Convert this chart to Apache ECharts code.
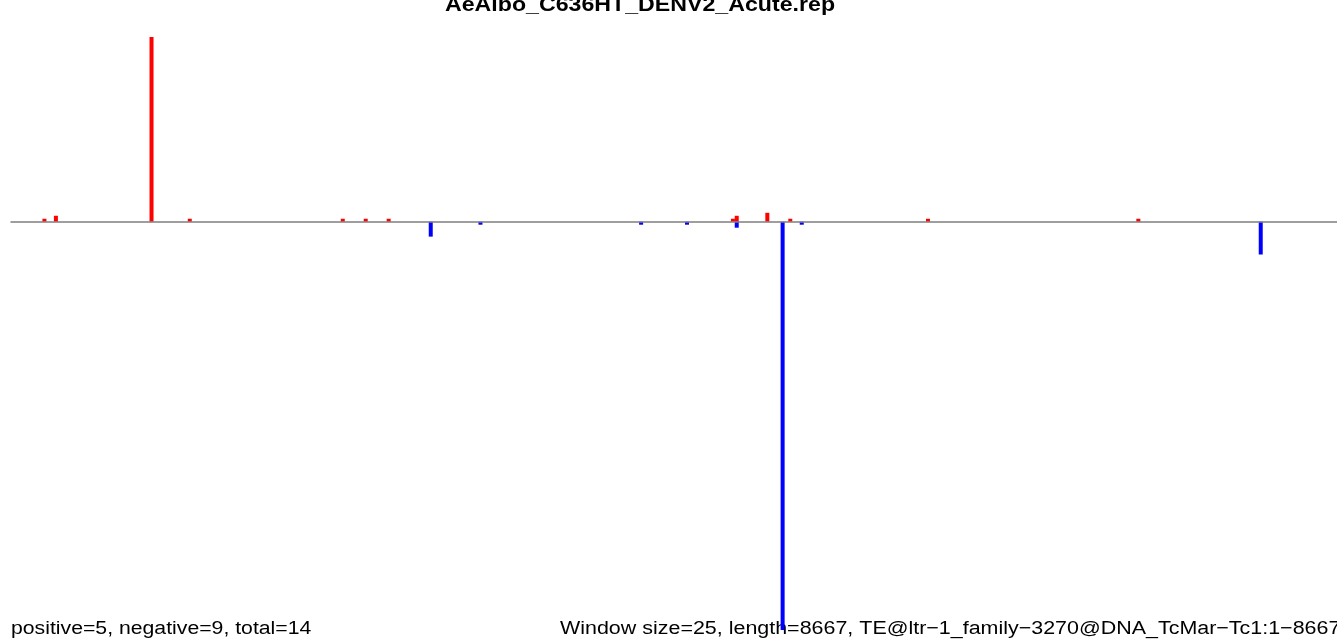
<!DOCTYPE html>
<html>
<head>
<meta charset="utf-8">
<title>AeAlbo_C636HT_DENV2_Acute.rep</title>
<script src="https://cdn.jsdelivr.net/npm/echarts@6/dist/echarts.min.js"></script>
<style>
  html, body { margin: 0; padding: 0; background: #ffffff; }
  #chart { width: 1337px; height: 639px; }
</style>
</head>
<body>
<div id="chart"></div>
<script>
// Window-level counts along the TE consensus (window size 25 bp)
const WINDOW_SIZE = 25;
const TE_LENGTH = 8667;

// Sense-strand windows (plotted upward)
const posWindows = [8, 11, 36, 46, 86, 92, 98, 188, 189, 197, 203, 239, 294];
const posValues  = [1, 2, 62, 1, 1, 1, 1, 1, 2, 3, 1, 1, 1];

// Antisense-strand windows (plotted downward)
const negWindows = [109, 122, 164, 176, 189, 201, 206, 326];
const negValues  = [-5, -1, -1, -1, -2, -137, -1, -11];

const titleText = 'AeAlbo_C636HT_DENV2_Acute.rep';
const leftNote = 'positive=5, negative=9, total=14';
const rightNote = 'Window size=25, length=8667, TE@ltr\u22121_family\u22123270@DNA_TcMar\u2212Tc1:1\u22128667';

// bar centred in the middle of its window, x in bp
function toPoints(wins, vals) {
  return wins.map((w, k) => [w * WINDOW_SIZE + WINDOW_SIZE / 2, vals[k]]);
}

const chart = echarts.init(document.getElementById('chart'), null, { renderer: 'canvas' });

const FONT = '"Liberation Sans", Arial, Helvetica, sans-serif';
const STRETCH = 1.13;

chart.setOption({
  animation: false,
  backgroundColor: '#ffffff',
  grid: { left: 11, width: 1329, top: 28, height: 615, containLabel: false },
  xAxis: {
    type: 'value',
    min: -6,
    max: TE_LENGTH - 6,
    z: 5,
    axisLine: { show: true, onZero: true, lineStyle: { color: '#7f7f7f', width: 1.5 } },
    axisTick: { show: false },
    axisLabel: { show: false },
    splitLine: { show: false }
  },
  yAxis: {
    type: 'value',
    min: -140,
    max: 65,
    show: false,
    splitLine: { show: false }
  },
  series: [
    {
      type: 'bar',
      name: 'positive',
      data: toPoints(posWindows, posValues),
      barWidth: 4,
      barGap: '-100%',
      itemStyle: { color: '#ff0000' },
      z: 2
    },
    {
      type: 'bar',
      name: 'negative',
      data: toPoints(negWindows, negValues),
      barWidth: 4,
      barGap: '-100%',
      itemStyle: { color: '#0000ff' },
      z: 3
    }
  ],
  graphic: [
    {
      type: 'text',
      x: 640, y: 5.3,
      scaleX: STRETCH,
      z: 1,
      style: {
        text: titleText,
        x: 0, y: 0,
        align: 'center',
        verticalAlign: 'middle',
        font: 'bold 20.5px ' + FONT,
        fill: '#000000'
      }
    },
    {
      type: 'text',
      x: 11, y: 628.5,
      scaleX: STRETCH,
      z: 1,
      style: {
        text: leftNote,
        x: 0, y: 0,
        align: 'left',
        verticalAlign: 'middle',
        font: '18.8px ' + FONT,
        fill: '#000000'
      }
    },
    {
      type: 'text',
      x: 560, y: 628.5,
      scaleX: 1.142,
      z: 1,
      style: {
        text: rightNote,
        x: 0, y: 0,
        align: 'left',
        verticalAlign: 'middle',
        font: '18.8px ' + FONT,
        fill: '#000000'
      }
    }
  ]
});
</script>
</body>
</html>
